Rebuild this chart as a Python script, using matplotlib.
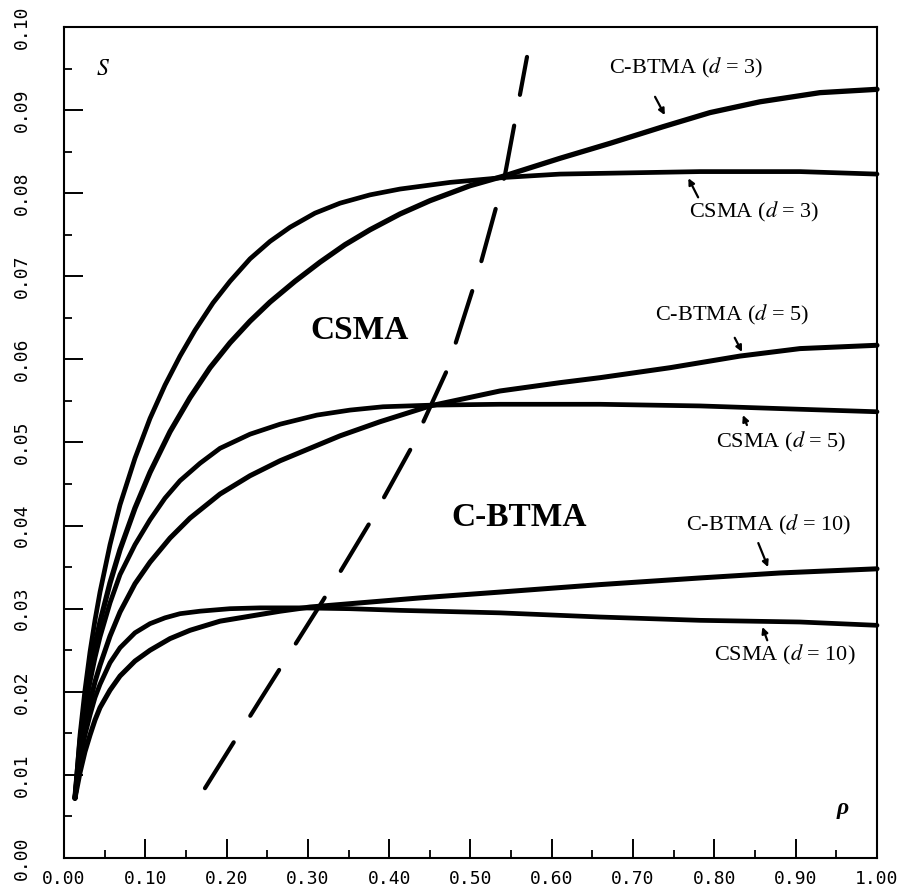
import matplotlib
matplotlib.use("Agg")
import matplotlib.pyplot as plt
from matplotlib.ticker import MultipleLocator, FormatStrFormatter

plt.rcParams["mathtext.fontset"] = "stix"

# ---------------- data ----------------
csma3_x = [0.0135, 0.0197, 0.0258, 0.0320, 0.0381, 0.0443, 0.0566, 0.0689, 0.0873,
           0.1058, 0.1242, 0.1427, 0.1611, 0.1833, 0.2042, 0.2288, 0.2534, 0.2780,
           0.3087, 0.3395, 0.3764, 0.4133, 0.4748, 0.5424, 0.6101, 0.7823, 0.9053, 1.0]
csma3_y = [0.0072, 0.0148, 0.0202, 0.0248, 0.0286, 0.0320, 0.0377, 0.0425, 0.0481,
           0.0529, 0.0569, 0.0604, 0.0635, 0.0668, 0.0694, 0.0721, 0.0742, 0.0759,
           0.0776, 0.0788, 0.0798, 0.0805, 0.0813, 0.0819, 0.0823, 0.0826, 0.0826, 0.0823]

cbtma3_x = [0.0135, 0.0197, 0.0258, 0.0320, 0.0381, 0.0443, 0.0566, 0.0689, 0.0873,
            0.1058, 0.1304, 0.1550, 0.1796, 0.2042, 0.2288, 0.2534, 0.2841, 0.3149,
            0.3456, 0.3764, 0.4133, 0.4502, 0.4994, 0.5424, 0.6101, 0.6716, 0.7368,
            0.7946, 0.8561, 0.9299, 1.0]
cbtma3_y = [0.0072, 0.0140, 0.0187, 0.0224, 0.0256, 0.0284, 0.0331, 0.0371, 0.0421,
            0.0464, 0.0513, 0.0554, 0.0590, 0.0620, 0.0646, 0.0669, 0.0694, 0.0717,
            0.0738, 0.0756, 0.0775, 0.0791, 0.0809, 0.0821, 0.0842, 0.0860, 0.0880,
            0.0897, 0.0910, 0.0921, 0.0925]

csma5_x = [0.0135, 0.0197, 0.0258, 0.0320, 0.0381, 0.0443, 0.0566, 0.0689, 0.0873,
           0.1058, 0.1242, 0.1427, 0.1673, 0.1919, 0.2288, 0.2657, 0.3112, 0.3518,
           0.3924, 0.4539, 0.5363, 0.6593, 0.7823, 0.9053, 1.0]
csma5_y = [0.0072, 0.0136, 0.0178, 0.0212, 0.0241, 0.0266, 0.0307, 0.0341, 0.0377,
           0.0407, 0.0433, 0.0454, 0.0475, 0.0493, 0.0510, 0.0522, 0.0533, 0.0539,
           0.0543, 0.0545, 0.0546, 0.0546, 0.0544, 0.0540, 0.0537]

cbtma5_x = [0.0135, 0.0197, 0.0258, 0.0320, 0.0381, 0.0443, 0.0566, 0.0689, 0.0873,
            0.1058, 0.1304, 0.1550, 0.1919, 0.2288, 0.2657, 0.3026, 0.3395, 0.3887,
            0.4502, 0.5363, 0.6101, 0.6593, 0.7454, 0.8315, 0.9053, 1.0]
cbtma5_y = [0.0072, 0.0128, 0.0160, 0.0188, 0.0212, 0.0232, 0.0267, 0.0296, 0.0330,
            0.0356, 0.0385, 0.0409, 0.0438, 0.0460, 0.0478, 0.0493, 0.0508, 0.0525,
            0.0544, 0.0562, 0.0572, 0.0578, 0.0590, 0.0604, 0.0613, 0.0617]

csma10_x = [0.0135, 0.0197, 0.0258, 0.0320, 0.0381, 0.0443, 0.0566, 0.0689, 0.0873,
            0.1058, 0.1242, 0.1427, 0.1673, 0.2042, 0.2411, 0.2903, 0.3518, 0.4133,
            0.5363, 0.6593, 0.7823, 0.9053, 1.0]
csma10_y = [0.0072, 0.0118, 0.0148, 0.0172, 0.0193, 0.0209, 0.0235, 0.0253, 0.0271,
            0.0282, 0.0289, 0.0294, 0.0297, 0.0300, 0.0301, 0.0301, 0.0300, 0.0298,
            0.0295, 0.0290, 0.0286, 0.0284, 0.0280]

cbtma10_x = [0.0135, 0.0197, 0.0258, 0.0320, 0.0381, 0.0443, 0.0566, 0.0689, 0.0873,
             0.1058, 0.1304, 0.1550, 0.1919, 0.2288, 0.2657, 0.3026, 0.3518, 0.4379,
             0.5363, 0.6593, 0.7823, 0.8807, 1.0]
cbtma10_y = [0.0072, 0.0103, 0.0128, 0.0148, 0.0166, 0.0181, 0.0202, 0.0219, 0.0237,
             0.0250, 0.0264, 0.0274, 0.0285, 0.0291, 0.0297, 0.0302, 0.0306, 0.0313,
             0.0320, 0.0329, 0.0337, 0.0343, 0.0348]

boundary_x = [0.1734, 0.2399, 0.3186, 0.3801, 0.4280, 0.4711, 0.5105, 0.5424, 0.5695]
boundary_y = [0.0084, 0.0188, 0.0310, 0.0410, 0.0495, 0.0587, 0.0708, 0.0822, 0.0964]

x_ticks = [0.0, 0.1, 0.2, 0.3, 0.4, 0.5, 0.6, 0.7, 0.8, 0.9, 1.0]
y_ticks = [0.0, 0.01, 0.02, 0.03, 0.04, 0.05, 0.06, 0.07, 0.08, 0.09, 0.10]

curve_labels = ["C-BTMA ($d$ = 3)", "CSMA ($d$ = 3)", "C-BTMA ($d$ = 5)",
                "CSMA ($d$ = 5)", "C-BTMA ($d$ = 10)", "CSMA ($d$ = 10)"]
label_pos = [(0.765, 0.0951), (0.849, 0.0777), (0.822, 0.0653),
             (0.882, 0.0501), (0.867, 0.0401), (0.886, 0.0244)]
arrow_tail = [(0.727, 0.0916), (0.780, 0.0795), (0.825, 0.0626),
              (0.840, 0.0521), (0.854, 0.0379), (0.865, 0.0262)]
arrow_head = [(0.739, 0.0894), (0.768, 0.0818), (0.834, 0.0609),
              (0.835, 0.0533), (0.866, 0.0350), (0.859, 0.0278)]

region_labels = ["CSMA", "C-BTMA"]
region_pos = [(0.364, 0.0635), (0.560, 0.0410)]

# ---------------- figure ----------------
fig = plt.figure(figsize=(9.2, 8.94), dpi=100)
ax = fig.add_axes([64 / 920, 1 - 858 / 894, (877 - 64) / 920, (858 - 27) / 894])

for xs, ys, lw in [(csma3_x, csma3_y, 3.4), (cbtma3_x, cbtma3_y, 3.8),
                   (csma5_x, csma5_y, 3.4), (cbtma5_x, cbtma5_y, 3.6),
                   (csma10_x, csma10_y, 3.4), (cbtma10_x, cbtma10_y, 3.6)]:
    ax.plot(xs, ys, color="black", lw=lw, solid_capstyle="round",
            solid_joinstyle="round", clip_on=False)

ax.plot(boundary_x, boundary_y, color="black", lw=3.0,
        linestyle=(0, (13, 7.5)), dash_capstyle="round")

serif = "Liberation Serif"
for txt, (tx, ty) in zip(curve_labels, label_pos):
    ax.text(tx, ty, txt, family=serif, fontsize=16, ha="center", va="center")
for (hx, hy), (tx, ty) in zip(arrow_head, arrow_tail):
    ax.annotate("", xy=(hx, hy), xytext=(tx, ty),
                arrowprops=dict(arrowstyle="-|>", lw=1.6, color="black",
                                mutation_scale=9, shrinkA=0, shrinkB=0))

for txt, (tx, ty) in zip(region_labels, region_pos):
    ax.text(tx, ty, txt, family=serif, fontsize=24, fontweight="bold",
            ha="center", va="center")

ax.text(0.048, 0.0951, "$S$", fontsize=17, ha="center", va="center")
ax.text(0.958, 0.0060, "ρ", family=serif, fontsize=17, style="italic",
        fontweight="bold", ha="center", va="center")

ax.set_xlim(0, 1.0)
ax.set_ylim(0, 0.10)
ax.set_xticks(x_ticks)
ax.set_yticks(y_ticks)
ax.xaxis.set_minor_locator(MultipleLocator(0.05))
ax.yaxis.set_minor_locator(MultipleLocator(0.005))
ax.xaxis.set_major_formatter(FormatStrFormatter("%.2f"))
ax.yaxis.set_major_formatter(FormatStrFormatter("%.2f"))

ax.tick_params(which="major", direction="in", length=14, width=1.4,
               top=False, right=False)
ax.tick_params(which="minor", direction="in", length=6, width=1.3,
               top=False, right=False)
ax.tick_params(axis="x", which="major", pad=9)
ax.tick_params(axis="y", which="major", pad=24, labelrotation=90)
for lbl in ax.get_xticklabels() + ax.get_yticklabels():
    lbl.set_family("DejaVu Sans Mono")
    lbl.set_fontsize(13)
for lbl in ax.get_yticklabels():
    lbl.set_verticalalignment("center")

for sp in ax.spines.values():
    sp.set_linewidth(1.5)

fig.savefig("out.png", dpi=100)
